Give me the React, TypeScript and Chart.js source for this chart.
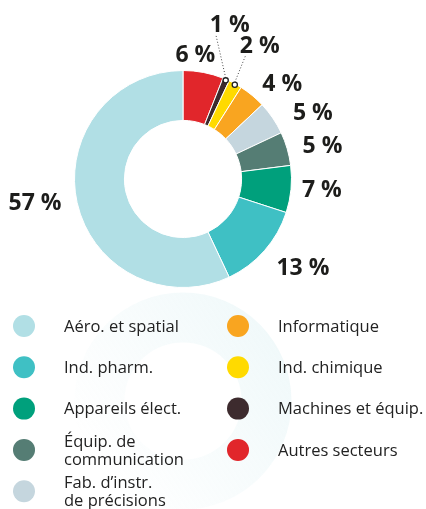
import React, { useEffect, useRef } from "react";
import { Chart, registerables } from "chart.js";

Chart.register(...registerables);

// Data (clockwise from 12 o'clock)
const categories: (string | string[])[] = [
  "Autres secteurs",
  "Machines et équip.",
  "Ind. chimique",
  "Informatique",
  ["Fab. d’instr.", "de précisions"],
  ["Équip. de", "communication"],
  "Appareils élect.",
  "Ind. pharm.",
  "Aéro. et spatial",
];
const shares = [6, 1, 2, 4, 5, 5, 7, 13, 57];
const sliceColors = [
  "#e1262b",
  "#3d2b2e",
  "#ffda00",
  "#f9a520",
  "#c5d6de",
  "#557d74",
  "#00a07c",
  "#3fc0c4",
  "#b1dfe5",
];

const LABEL_FONT_SIZE = 23;

const sliceLabelPlugin = {
  id: "sliceLabels",
  afterDatasetsDraw(chart: any, _args: any, opts: any) {
    const ctx: CanvasRenderingContext2D = chart.ctx;
    const meta = chart.getDatasetMeta(0);
    const ds = chart.data.datasets[0];
    const capH = LABEL_FONT_SIZE * 0.72;
    ctx.save();
    ctx.font = `700 ${LABEL_FONT_SIZE}px 'Open Sans'`;
    ctx.fillStyle = "#1d1d1b";
    ctx.textBaseline = "alphabetic";
    meta.data.forEach((arc: any, i: number) => {
      const { x, y, startAngle, endAngle, outerRadius } = arc.getProps(
        ["x", "y", "startAngle", "endAngle", "outerRadius"],
        true
      );
      const mid = (startAngle + endAngle) / 2;
      const cos = Math.cos(mid);
      const sin = Math.sin(mid);
      const text = `${ds.data[i]} %`;
      const w = ctx.measureText(text).width;
      const callout = opts.callouts[i];
      if (callout) {
        const px = x + cos * (outerRadius - 1);
        const py = y + sin * (outerRadius - 1);
        const cx = px + callout.dx;
        const by = py + callout.dy;
        const left = cx - w / 2;
        ctx.save();
        ctx.setLineDash([1, 2]);
        ctx.strokeStyle = "#444";
        ctx.lineWidth = 1;
        ctx.beginPath();
        ctx.moveTo(px, py - 2.5);
        ctx.lineTo(left + 6, by + 2);
        ctx.stroke();
        ctx.setLineDash([]);
        ctx.beginPath();
        ctx.arc(px, py, 2.6, 0, Math.PI * 2);
        ctx.fillStyle = "#ffffff";
        ctx.fill();
        ctx.strokeStyle = "#222";
        ctx.lineWidth = 1.3;
        ctx.stroke();
        ctx.restore();
        ctx.textAlign = "center";
        ctx.fillText(text, cx, by);
        return;
      }
      const r = outerRadius + opts.gap;
      const n = opts.nudges[i] || { dx: 0, dy: 0 };
      const ax = x + cos * r + n.dx;
      const ay = y + sin * r + n.dy;
      let base: number;
      if (cos > 0.35) {
        ctx.textAlign = "left";
        base = ay + capH / 2;
      } else if (cos < -0.35) {
        ctx.textAlign = "right";
        base = ay + capH / 2;
      } else {
        ctx.textAlign = "center";
        base = sin < 0 ? ay : ay + capH;
      }
      ctx.fillText(text, ax, base);
    });
    ctx.restore();
  },
};

const legendPlugin = {
  id: "twoColLegend",
  afterDraw(chart: any, _args: any, opts: any) {
    const ctx: CanvasRenderingContext2D = chart.ctx;
    const meta = chart.getDatasetMeta(0);
    const arc0 = meta.data[0];
    const { x, y, outerRadius, innerRadius } = arc0.getProps(
      ["x", "y", "outerRadius", "innerRadius"],
      true
    );
    // faint watermark ring behind legend
    const wy = y + outerRadius * 2 + 5;
    ctx.save();
    const g = ctx.createLinearGradient(x + outerRadius, wy - outerRadius, x - outerRadius, wy + outerRadius * 0.3);
    g.addColorStop(0, "rgba(177,223,229,0.22)");
    g.addColorStop(1, "rgba(177,223,229,0)");
    ctx.beginPath();
    ctx.arc(x, wy, outerRadius, 0, Math.PI * 2);
    ctx.arc(x, wy, innerRadius, 0, Math.PI * 2, true);
    ctx.fillStyle = g;
    ctx.fill("evenodd");
    ctx.restore();

    const labels = chart.data.labels;
    const colors = chart.data.datasets[0].backgroundColor;
    const order = labels.map((_: any, i: number) => i).reverse();
    ctx.save();
    ctx.font = opts.font;
    ctx.fillStyle = "#222";
    ctx.textAlign = "left";
    ctx.textBaseline = "middle";
    order.forEach((idx: number, k: number) => {
      const col = k < opts.perColumn ? 0 : 1;
      const row = col === 0 ? k : k - opts.perColumn;
      const cx = opts.colX[col];
      const cy = opts.top + row * opts.rowH;
      ctx.beginPath();
      ctx.arc(cx, cy, opts.dotR, 0, Math.PI * 2);
      ctx.fillStyle = colors[idx];
      ctx.fill();
      ctx.fillStyle = "#222";
      const lab = labels[idx];
      const lines = Array.isArray(lab) ? lab : [lab];
      const startY = cy - ((lines.length - 1) * opts.lineH) / 2;
      lines.forEach((ln: string, j: number) => {
        ctx.fillText(ln, cx + opts.textOffset, startY + j * opts.lineH + 1);
      });
    });
    ctx.restore();
  },
};

export default function App() {
  const ref = useRef<HTMLCanvasElement | null>(null);
  useEffect(() => {
    document.body.style.margin = "0";
    const canvas = ref.current;
    if (!canvas) return;
    const chart = new Chart(canvas, {
      type: "doughnut",
      data: {
        labels: categories as any,
        datasets: [
          {
            data: shares,
            backgroundColor: sliceColors,
            borderColor: "#ffffff",
            borderWidth: 1,
          },
        ],
      },
      options: {
        responsive: false,
        animation: false,
        cutout: "54%",
        layout: { padding: { left: 74, top: 70, right: 134, bottom: 221 } },
        plugins: {
          legend: { display: false },
          tooltip: { enabled: false },
          sliceLabels: {
            gap: 16,
            callouts: {
              1: { dx: 4, dy: -48 },
              2: { dx: 25, dy: -32 },
            },
            nudges: {
              0: { dx: -11, dy: 5 },
              4: { dx: 7, dy: 3 },
              6: { dx: -5, dy: -2 },
              7: { dx: 0, dy: 5 },
              8: { dx: 0, dy: -4 },
            },
          },
          twoColLegend: {
            font: "16.5px 'Open Sans'",
            colX: [24, 238],
            textOffset: 40,
            top: 326,
            rowH: 41.3,
            lineH: 18,
            dotR: 11,
            perColumn: 5,
          },
        } as any,
      },
      plugins: [sliceLabelPlugin, legendPlugin],
    });
    return () => chart.destroy();
  }, []);
  return (
    <canvas
      ref={ref}
      width={426}
      height={509}
      style={{ display: "block", width: 426, height: 509 }}
    />
  );
}
